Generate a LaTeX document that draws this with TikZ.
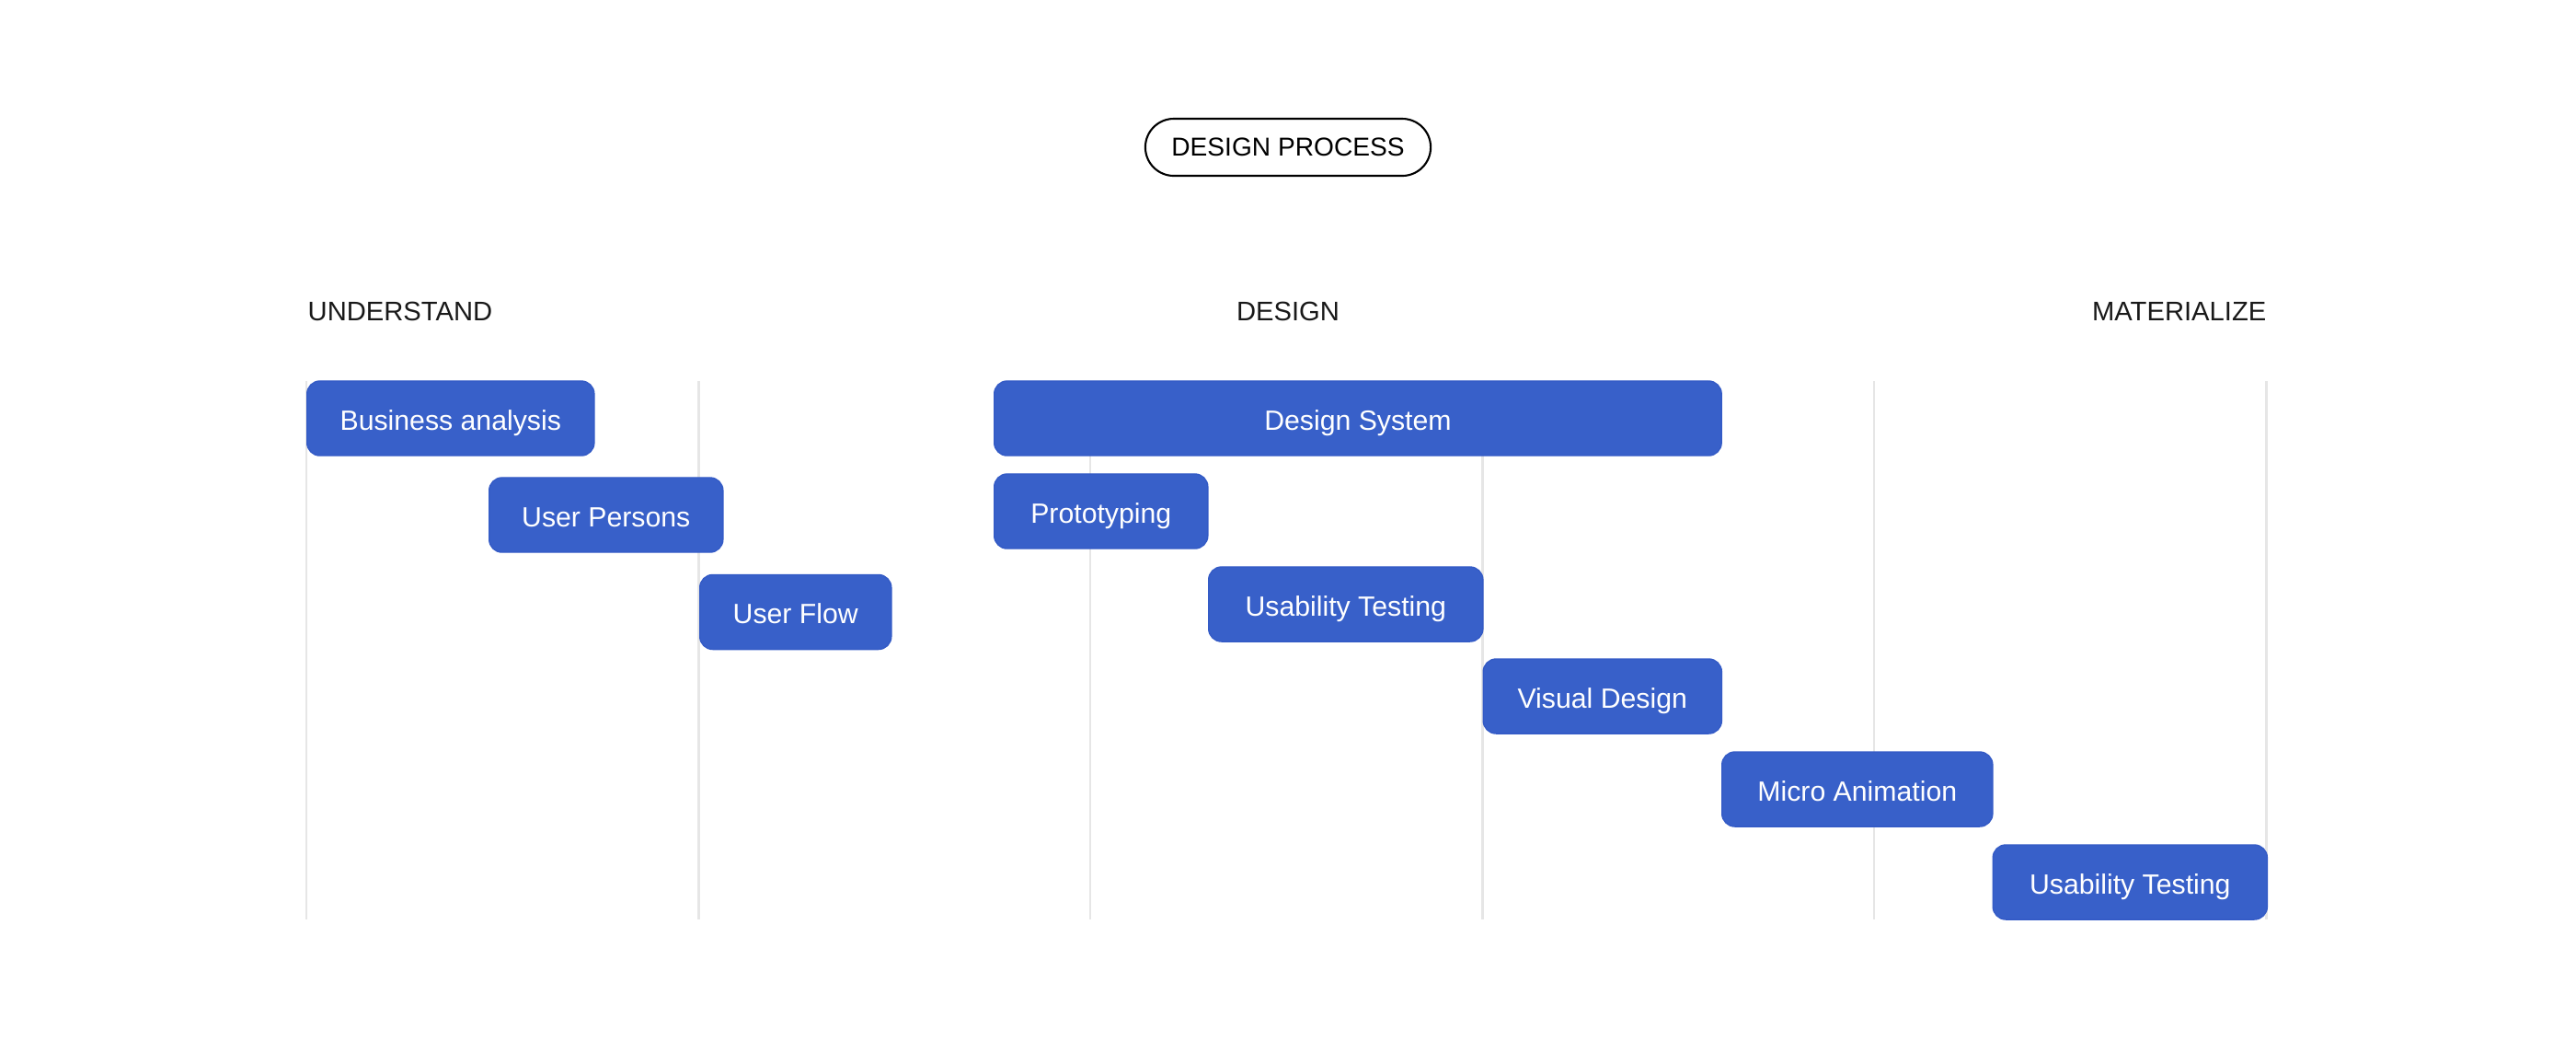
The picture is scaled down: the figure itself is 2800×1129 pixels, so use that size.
\documentclass[tikz,border=0pt]{standalone}
\usepackage{fontspec}
\setmainfont{Liberation Sans}
\usepackage{tikz}
\definecolor{taskblue}{HTML}{3860C9}
\definecolor{taskedge}{HTML}{345BC6}
\definecolor{gridgrey}{HTML}{E6E6E6}
\tikzset{
	task/.style={draw=taskedge, line width=0.4pt, fill=taskblue, text=white, rounded corners=0.14cm,
		inner sep=0pt, minimum height=0.81cm, text height=0.9em, text depth=0.18em, anchor=west,
		font=\fontsize{8.6}{10}\selectfont},
	phase/.style={inner sep=0pt, text=black!90, font=\fontsize{8.3}{10}\selectfont},
	pill/.style={draw=black, line width=0.6pt, rounded corners=0.31cm, inner sep=0pt,
		minimum width=3.1cm, minimum height=0.62cm, font=\fontsize{8}{10}\selectfont}
}

\begin{document}
\begin{tikzpicture}[x=0.01cm, y=-0.01cm]
		%%%%% START %%%%%
		\useasboundingbox (0, 0) rectangle (2800, 1129);
		
		\node[pill] (title) at (1400, 160) {DESIGN PROCESS};
		
		\node[phase, anchor=west] (understand) at (334, 338) {UNDERSTAND};
		\node[phase] (design) at (1400, 338) {DESIGN};
		\node[phase, anchor=east] (materialize) at (2464, 338) {MATERIALIZE};
		
		\foreach \gx in {333, 759.5, 1185, 1611.5, 2037, 2463.5}
			\draw[line width=0.6pt, color=gridgrey] (\gx, 414) -- (\gx, 999);
		
		\node[task, minimum width=3.12cm] (business) at (333, 454.5) {Business analysis};
		\node[task, minimum width=2.54cm] (persons) at (531, 559.5) {User Persons};
		\node[task, minimum width=2.08cm] (flow) at (760, 665) {User Flow};
		
		\node[task, minimum width=7.90cm] (system) at (1080, 454.5) {Design System};
		\node[task, minimum width=2.32cm] (proto) at (1080, 555.5) {Prototyping};
		\node[task, minimum width=2.98cm] (usability) at (1313, 656.5) {Usability Testing};
		\node[task, minimum width=2.59cm] (visual) at (1611.5, 756.5) {Visual Design};
		\node[task, minimum width=2.94cm] (micro) at (1871, 857.5) {Micro Animation};
		\node[task, minimum width=2.98cm] (testing) at (2165.5, 958.5) {Usability Testing};
		
		%%%%% END %%%%%
	\end{tikzpicture}
\end{document}
